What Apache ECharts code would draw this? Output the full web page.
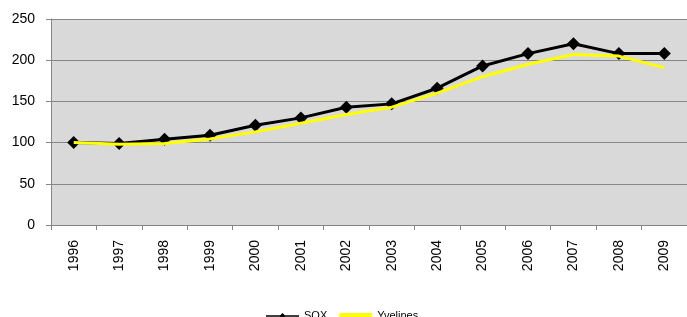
<!DOCTYPE html>
<html>
<head>
<meta charset="utf-8">
<script src="https://cdn.jsdelivr.net/npm/echarts@6/dist/echarts.min.js"></script>
<style>
  html, body { margin: 0; padding: 0; background: #fff; }
  #myChart { width: 687px; height: 317px; }
</style>
</head>
<body>
<div id="myChart"></div>
<script>
const years = ['1996', '1997', '1998', '1999', '2000', '2001', '2002', '2003', '2004', '2005', '2006', '2007', '2008', '2009']
const soxData = [100, 99, 104, 109, 121, 130, 143, 147, 166, 193, 208, 220, 208, 208]
const yvelinesData = [100, 98, 99, 104.5, 113, 123.5, 134, 143, 160, 180, 195, 207, 205, 191]
const yTicks = [0, 50, 100, 150, 200, 250]

const font = 'Liberation Sans, Arial, sans-serif'

const myChart = echarts.init(document.getElementById('myChart'))
myChart.setOption({
  animation: false,
  grid: {
    left: 51,
    top: 19,
    bottom: 92,
    width: 637,
    show: true,
    backgroundColor: '#d9d9d9',
    borderWidth: 0
  },
  legend: {
    top: 309,
    left: 266,
    padding: 0,
    itemGap: 12,
    itemWidth: 33,
    itemHeight: 6,
    symbolKeepAspect: false,
    textStyle: { fontFamily: font, fontSize: 11, color: '#000', lineHeight: 14 },
    data: [
      { name: 'SOX', icon: 'path://M0,2.2 L32,2.2 L32,3.8 L0,3.8 Z M16,0 L19,3 L16,6 L13,3 Z' },
      { name: 'Yvelines', icon: 'path://M0,1.6 L32,1.6 L32,4.4 L0,4.4 Z' }
    ]
  },
  xAxis: {
    type: 'category',
    data: years,
    boundaryGap: true,
    axisLine: { lineStyle: { color: '#868686', width: 1 } },
    axisTick: { show: true, length: 5, alignWithLabel: false, lineStyle: { color: '#868686' } },
    axisLabel: { rotate: 90, margin: 15, fontFamily: font, fontSize: 14, color: '#000' }
  },
  yAxis: {
    type: 'value',
    min: yTicks[0],
    max: yTicks[yTicks.length - 1],
    interval: 50,
    axisLine: { show: true, lineStyle: { color: '#868686' } },
    axisTick: { show: true, length: 5, lineStyle: { color: '#868686' } },
    splitLine: { lineStyle: { color: '#868686', width: 1 } },
    axisLabel: { margin: 16, fontFamily: font, fontSize: 14, color: '#000' }
  },
  series: [
    {
      name: 'SOX',
      type: 'line',
      data: soxData,
      symbol: 'diamond',
      symbolSize: 13,
      itemStyle: { color: '#000' },
      lineStyle: { color: '#000', width: 3 },
      z: 2
    },
    {
      name: 'Yvelines',
      type: 'line',
      data: yvelinesData,
      symbol: 'none',
      itemStyle: { color: '#ffff00' },
      lineStyle: { color: '#ffff00', width: 3 },
      z: 3
    }
  ]
})
</script>
</body>
</html>
